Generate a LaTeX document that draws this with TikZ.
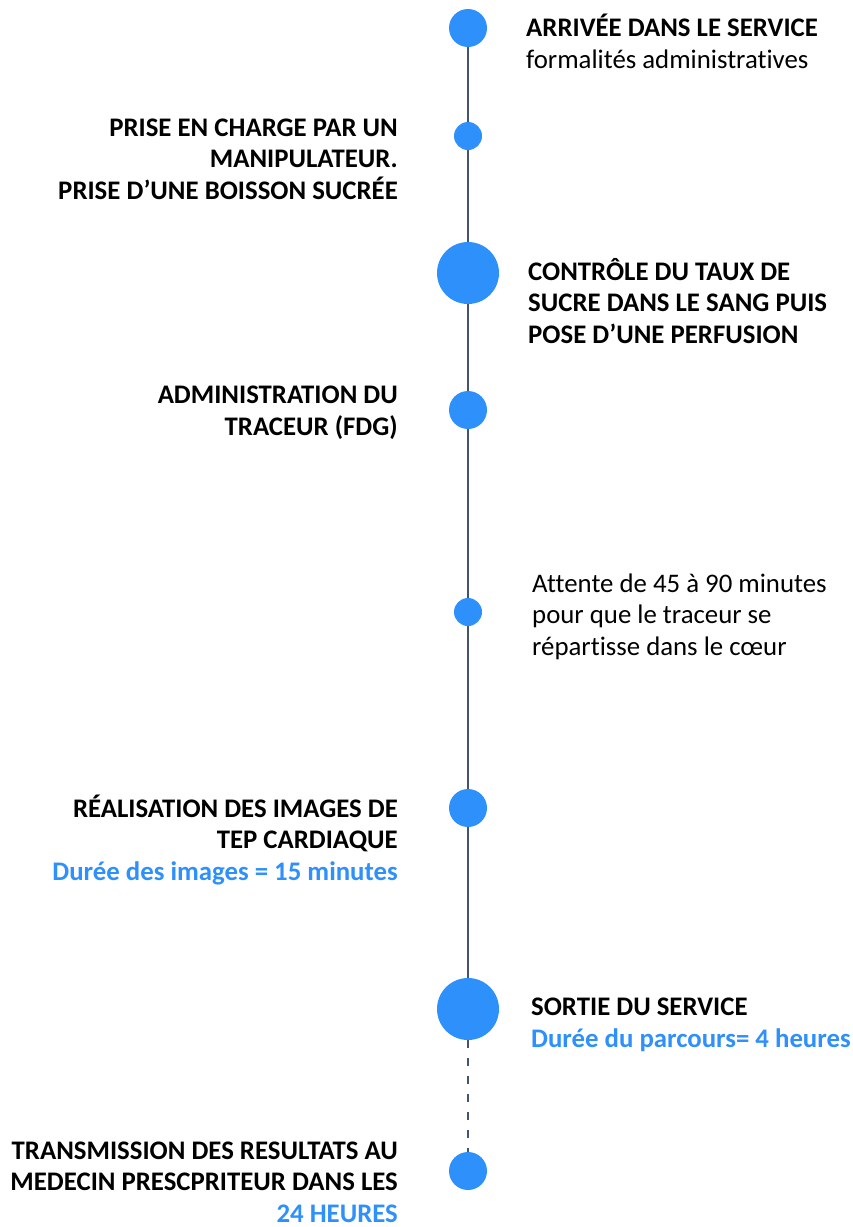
\documentclass[tikz,border=0pt]{standalone}
\usepackage{fontspec}
\setmainfont{Carlito}[Ligatures=CommonOff]
\usetikzlibrary{positioning}
\definecolor{dotblue}{RGB}{46,144,250}
\definecolor{linegray}{RGB}{68,84,106}
\tikzset{dot/.style={circle, fill=dotblue, inner sep=0pt},
  small/.style={dot, minimum size=28pt},
  medium/.style={dot, minimum size=38pt},
  large/.style={dot, minimum size=62pt},
  stepright/.style={anchor=base west, align=left, inner sep=0pt, font=\fontsize{26.8}{31.5}\selectfont\bfseries},
  stepleft/.style={anchor=base east, align=right, inner sep=0pt, font=\fontsize{26.8}{31.5}\selectfont\bfseries},
  link/.style={draw=linegray, line width=2pt}}
\newcommand{\hl}[1]{\textcolor{dotblue}{#1}}

\begin{document}
\begin{tikzpicture}[x=1pt, y=-1pt]
    \useasboundingbox (0,0) rectangle (852,1227);

    % timeline dots
    \node[medium] (C1) at (468,28) {};
    \node[small]  (C2) at (468,136) {};
    \node[large]  (C3) at (468,273) {};
    \node[medium] (C4) at (468,410) {};
    \node[small]  (C5) at (468,612) {};
    \node[medium] (C6) at (468,808) {};
    \node[large]  (C7) at (468,1009) {};
    \node[medium] (C8) at (468,1171) {};

    \path[link] (C1) -- (C2) (C2) -- (C3) (C3) -- (C4) (C4) -- (C5)
                (C5) -- (C6) (C6) -- (C7);
    \path[link, dash pattern=on 8pt off 10pt] (C7) -- (C8);

    % steps (placed at the baseline of their last line)
    \node[stepright] (T1) at (526,68) {ARRIVÉE DANS LE SERVICE\\\mdseries formalités administratives};
    \node[stepleft]  (T2) at (398,199) {PRISE EN CHARGE PAR UN\\MANIPULATEUR.\\PRISE D’UNE BOISSON SUCRÉE};
    \node[stepright] (T3) at (528,343) {CONTRÔLE DU TAUX DE\\SUCRE DANS LE SANG PUIS\\POSE D’UNE PERFUSION};
    \node[stepleft]  (T4) at (398,435) {ADMINISTRATION DU\\TRACEUR (FDG)};
    \node[stepright, font=\fontsize{26.8}{31.5}\selectfont] (T5) at (532,655) {Attente de 45 à 90 minutes\\pour que le traceur se\\répartisse dans le cœur};
    \node[stepleft]  (T6) at (398,880) {RÉALISATION DES IMAGES DE\\TEP CARDIAQUE\\\hl{Durée des images = 15 minutes}};
    \node[stepright] (T7) at (531,1047) {SORTIE DU SERVICE\\\hl{Durée du parcours= 4 heures}};
    \node[stepleft]  (T8) at (398,1222) {TRANSMISSION DES RESULTATS AU\\MEDECIN PRESCPRITEUR DANS LES\\\hl{24 HEURES}};
\end{tikzpicture}
\end{document}
